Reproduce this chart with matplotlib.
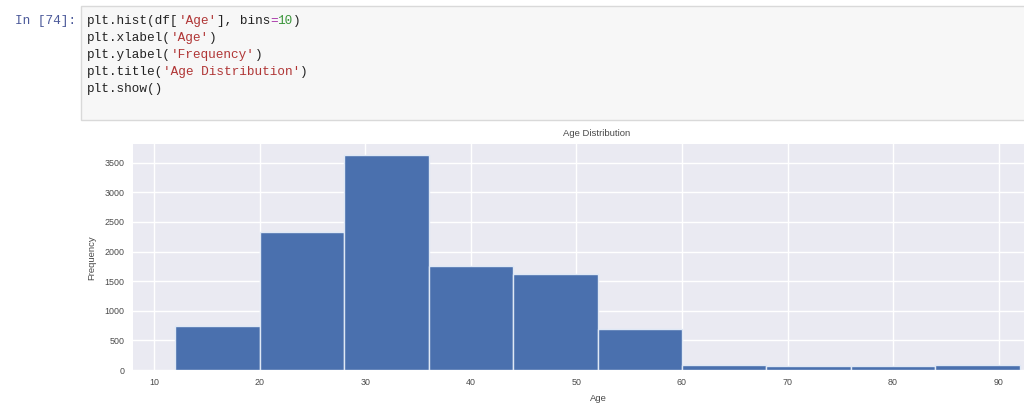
import matplotlib
matplotlib.use("Agg")
import matplotlib.pyplot as plt
from matplotlib.patches import Rectangle

# ---- data ----
bin_edges = [12, 20, 28, 36, 44, 52, 60, 68, 76, 84, 92]
counts = [736, 2331, 3635, 1762, 1623, 691, 90, 75, 75, 90]
x_ticks = [10, 20, 30, 40, 50, 60, 70, 80, 90]
y_ticks = [0, 500, 1000, 1500, 2000, 2500, 3000, 3500]

code_lines = [
    [("plt.hist(df[", "#222222"), ("'Age'", "#b03535"), ("], bins", "#222222"),
     ("=", "#a52ca5"), ("10", "#3c963c"), (")", "#222222")],
    [("plt.xlabel(", "#222222"), ("'Age'", "#b03535"), (")", "#222222")],
    [("plt.ylabel(", "#222222"), ("'Frequency'", "#b03535"), (")", "#222222")],
    [("plt.title(", "#222222"), ("'Age Distribution'", "#b03535"), (")", "#222222")],
    [("plt.show()", "#222222")],
]

W, H = 1024, 408
fig = plt.figure(figsize=(W / 100, H / 100), dpi=100)
fig.patch.set_facecolor("white")

# ---- notebook code cell ----
cell = Rectangle((81 / W, 1 - 120 / H), 1.0, (120 - 6) / H, transform=fig.transFigure,
                 facecolor="#f7f7f7", edgecolor="#d9d9d9", linewidth=1.0, zorder=0)
fig.patches.append(cell)
fig.text(15 / W, 1 - 21 / H, "In [74]:", family="Liberation Mono", fontsize=9.2,
         color="#4a5899", va="center", ha="left")

char_w = 7.62
for i, line in enumerate(code_lines):
    y = 1 - (21 + i * 17) / H
    col = 0
    for txt, color in line:
        fig.text((87 + col * char_w) / W, y, txt, family="Liberation Mono", fontsize=9.2,
                 color=color, va="center", ha="left")
        col += len(txt)

# ---- histogram ----
ax = fig.add_axes([133 / W, 1 - 370 / H, (1062 - 133) / W, (370 - 144) / H])
ax.set_facecolor("#eaeaf2")
widths = [bin_edges[i + 1] - bin_edges[i] for i in range(len(counts))]
ax.bar(bin_edges[:-1], counts, width=widths, align="edge", color="#4a70ae",
       edgecolor="#dfe8f5", linewidth=1.0, zorder=2)
ax.set_xlim(8, 96)
ax.set_ylim(0, 3817)
ax.set_xticks(x_ticks)
ax.set_yticks(y_ticks)
ax.grid(True, color="white", linewidth=1.0, zorder=1)
ax.set_axisbelow(True)
for s in ax.spines.values():
    s.set_visible(False)
ax.tick_params(length=0, labelsize=6.4, labelcolor="#4a4a4a", pad=6)
for lab in ax.get_xticklabels() + ax.get_yticklabels():
    lab.set_family("Liberation Sans")
ax.set_xlabel("Age", family="Liberation Sans", fontsize=6.8, color="#4a4a4a", labelpad=3)
ax.xaxis.set_label_coords((598 - 133) / (1062 - 133), -(394 - 370) / (370 - 144))
ax.set_ylabel("Frequency", family="Liberation Sans", fontsize=6.8, color="#4a4a4a")
ax.yaxis.set_label_coords(-(133 - 96) / (1062 - 133), (370 - 258) / (370 - 144))
fig.text(597 / W, 1 - 134 / H, "Age Distribution", family="Liberation Sans",
         fontsize=6.8, color="#4a4a4a", ha="center", va="center")

fig.savefig("out.png", dpi=100)
